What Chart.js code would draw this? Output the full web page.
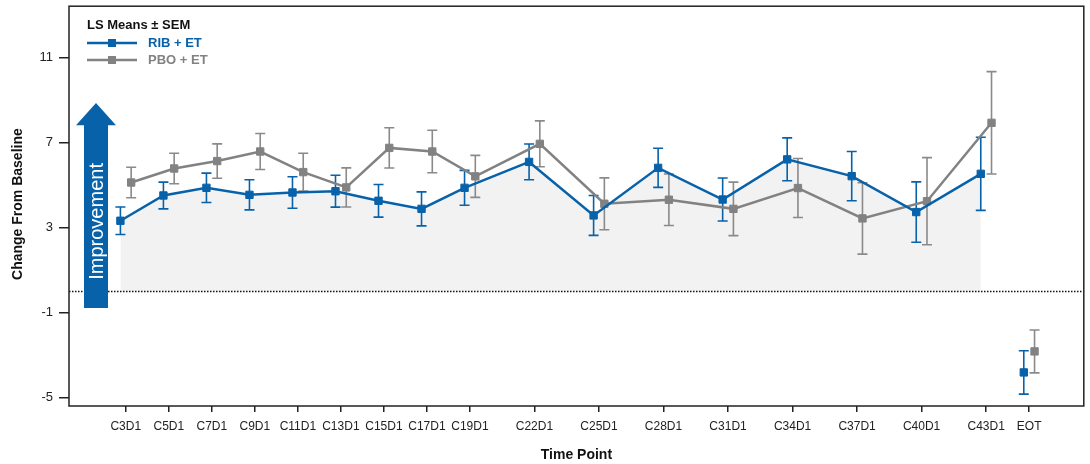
<!DOCTYPE html>
<html>
<head>
<meta charset="utf-8">
<script src="https://cdn.jsdelivr.net/npm/chart.js@4.4.0/dist/chart.umd.min.js"></script>
<style>
  html, body { margin: 0; padding: 0; background: #fff; }
</style>
</head>
<body>
<canvas id="chart" width="1090" height="464"></canvas>
<script>
// visits and where they sit on the cycle axis (EOT placed after C43D1)
var visits = ['C3D1', 'C5D1', 'C7D1', 'C9D1', 'C11D1', 'C13D1', 'C15D1', 'C17D1', 'C19D1',
	'C22D1', 'C25D1', 'C28D1', 'C31D1', 'C34D1', 'C37D1', 'C40D1', 'C43D1', 'EOT'];
var visitX = [3, 5, 7, 9, 11, 13, 15, 17, 19, 22, 25, 28, 31, 34, 37, 40, 43, 45];

var groups = ['RIB + ET', 'PBO + ET'];
var ribMean = [3.33, 4.52, 4.88, 4.55, 4.66, 4.72, 4.27, 3.89, 4.88, 6.10, 3.58, 5.82, 4.33, 6.22, 5.43, 3.74, 5.54, -3.81];
var ribSem = [0.65, 0.63, 0.69, 0.71, 0.74, 0.75, 0.77, 0.80, 0.82, 0.84, 0.94, 0.92, 1.01, 1.01, 1.16, 1.42, 1.72, 1.02];
var pboMean = [5.13, 5.79, 6.14, 6.59, 5.62, 4.90, 6.76, 6.59, 5.42, 6.95, 4.13, 4.32, 3.89, 4.87, 3.44, 4.25, 7.94, -2.82];
var pboSem = [0.72, 0.72, 0.81, 0.85, 0.89, 0.92, 0.95, 1.00, 0.99, 1.08, 1.22, 1.21, 1.26, 1.39, 1.68, 2.05, 2.41, 1.01];
var yTicks = [-5, -1, 3, 7, 11];

var BLUE = '#0762aa';
var GREY = '#828282';
var FONT = "'Liberation Sans', Arial, sans-serif";
var DODGE = 0.25;

// EOT is not joined to the line, so put a gap before it
function points(means, sems, shift) {
	var pts = [];
	for (var i = 0; i < means.length; i++) {
		if (visits[i] === 'EOT') pts.push({ x: visitX[i] - 1, y: null });
		pts.push({ x: visitX[i] + shift, y: means[i], sem: sems[i] });
	}
	return pts;
}

var decor = {
	id: 'decor',
	beforeDatasetsDraw: function(chart) {
		var ctx = chart.ctx, area = chart.chartArea;
		var ys = chart.scales.y;
		// zero reference line
		var y0 = ys.getPixelForValue(0);
		ctx.save();
		ctx.strokeStyle = '#111';
		ctx.lineWidth = 1.3;
		ctx.setLineDash([1.5, 1.5]);
		ctx.beginPath();
		ctx.moveTo(area.left, y0);
		ctx.lineTo(area.right, y0);
		ctx.stroke();
		ctx.restore();

		// error bars
		chart.data.datasets.forEach(function(ds, di) {
			var meta = chart.getDatasetMeta(di);
			ctx.save();
			ctx.strokeStyle = ds.barColor;
			ctx.lineWidth = 1.6;
			ds.data.forEach(function(p, j) {
				if (p.y === null) return;
				var x = meta.data[j].x;
				var top = ys.getPixelForValue(p.y + p.sem);
				var bot = ys.getPixelForValue(p.y - p.sem);
				ctx.beginPath();
				ctx.moveTo(x, top); ctx.lineTo(x, bot);
				ctx.moveTo(x - 5, top); ctx.lineTo(x + 5, top);
				ctx.moveTo(x - 5, bot); ctx.lineTo(x + 5, bot);
				ctx.stroke();
			});
			ctx.restore();
		});
	},
	afterDraw: function(chart) {
		var ctx = chart.ctx, area = chart.chartArea;
		var ys = chart.scales.y;
		ctx.save();
		// frame
		ctx.strokeStyle = '#222';
		ctx.lineWidth = 1.5;
		ctx.strokeRect(area.left, area.top, area.right - area.left, area.bottom - area.top);

		// improvement arrow
		var cx = area.left + 27;
		var yTip = ys.getPixelForValue(8.87);
		var yHead = ys.getPixelForValue(7.83);
		var yBot = ys.getPixelForValue(-0.78);
		ctx.fillStyle = BLUE;
		ctx.beginPath();
		ctx.moveTo(cx, yTip);
		ctx.lineTo(cx + 20, yHead);
		ctx.lineTo(cx + 12, yHead);
		ctx.lineTo(cx + 12, yBot);
		ctx.lineTo(cx - 12, yBot);
		ctx.lineTo(cx - 12, yHead);
		ctx.lineTo(cx - 20, yHead);
		ctx.closePath();
		ctx.fill();
		ctx.save();
		ctx.translate(cx + 1, ys.getPixelForValue(3.3));
		ctx.rotate(-Math.PI / 2);
		ctx.fillStyle = '#fff';
		ctx.font = '20px ' + FONT;
		ctx.textAlign = 'center';
		ctx.textBaseline = 'middle';
		ctx.fillText('Improvement', 0, 0);
		ctx.restore();

		// legend
		var lx = area.left + 18;
		ctx.fillStyle = '#111';
		ctx.font = 'bold 13px ' + FONT;
		ctx.textAlign = 'left';
		ctx.textBaseline = 'middle';
		ctx.fillText('LS Means \u00b1 SEM', lx, 25);
		[BLUE, GREY].forEach(function(col, i) {
			var ly = 43 + i * 17;
			ctx.strokeStyle = col;
			ctx.lineWidth = 2.5;
			ctx.beginPath();
			ctx.moveTo(lx, ly); ctx.lineTo(lx + 50, ly);
			ctx.stroke();
			ctx.fillStyle = col;
			ctx.fillRect(lx + 21, ly - 4, 8, 8);
			ctx.fillText(groups[i], lx + 61, ly);
		});

		// axis titles
		ctx.fillStyle = '#111';
		ctx.font = 'bold 14px ' + FONT;
		ctx.textAlign = 'center';
		ctx.fillText('Time Point', (area.left + area.right) / 2, 455);
		ctx.translate(18, (area.top + area.bottom) / 2 - 2);
		ctx.rotate(-Math.PI / 2);
		ctx.fillText('Change From Baseline', 0, 0);
		ctx.restore();
	}
};

new Chart(document.getElementById('chart'), {
	type: 'line',
	data: {
		datasets: [{
			label: groups[0],
			data: points(ribMean, ribSem, -DODGE),
			borderColor: BLUE,
			barColor: BLUE,
			backgroundColor: '#f2f2f2',
			fill: 'origin',
			borderWidth: 2.5,
			pointStyle: 'rect',
			pointRadius: 5.2,
			pointBackgroundColor: BLUE,
			pointBorderColor: BLUE,
			pointBorderWidth: 1,
			spanGaps: false,
			tension: 0
		}, {
			label: groups[1],
			data: points(pboMean, pboSem, DODGE),
			borderColor: GREY,
			barColor: '#8a8a8a',
			backgroundColor: GREY,
			fill: false,
			borderWidth: 2.5,
			pointStyle: 'rect',
			pointRadius: 5.2,
			pointBackgroundColor: GREY,
			pointBorderColor: GREY,
			pointBorderWidth: 1,
			spanGaps: false,
			tension: 0
		}]
	},
	options: {
		responsive: false,
		animation: false,
		devicePixelRatio: 1,
		layout: { padding: { top: 6, right: 2, left: 0, bottom: 0 } },
		plugins: {
			legend: { display: false },
			tooltip: { enabled: false },
			filler: { drawTime: 'beforeDatasetsDraw' }
		},
		scales: {
			x: {
				type: 'linear',
				min: 0.36,
				max: 47.54,
				afterBuildTicks: function(axis) {
					axis.ticks = visitX.map(function(v) { return { value: v }; });
				},
				afterFit: function(scale) {
					scale.height = 58;
					scale.paddingLeft = 0;
					scale.paddingRight = 0;
				},
				ticks: {
					autoSkip: false,
					maxRotation: 0,
					padding: 7,
					color: '#222',
					font: { family: FONT, size: 12 },
					callback: function(v) { return visits[visitX.indexOf(v)]; }
				},
				grid: { display: true, drawOnChartArea: false, drawTicks: true, tickLength: 6, color: '#222', lineWidth: 1.5 },
				border: { display: false }
			},
			y: {
				min: -5.39,
				max: 13.43,
				afterBuildTicks: function(axis) {
					axis.ticks = yTicks.map(function(v) { return { value: v }; });
				},
				afterFit: function(scale) {
					scale.width = 69;
					scale.paddingTop = 0;
					scale.paddingBottom = 0;
				},
				ticks: {
					padding: 6,
					color: '#222',
					font: { family: FONT, size: 13 }
				},
				grid: { display: true, drawOnChartArea: false, drawTicks: true, tickLength: 10, color: '#222', lineWidth: 1.5 },
				border: { display: false }
			}
		}
	},
	plugins: [decor]
});
</script>
</body>
</html>
